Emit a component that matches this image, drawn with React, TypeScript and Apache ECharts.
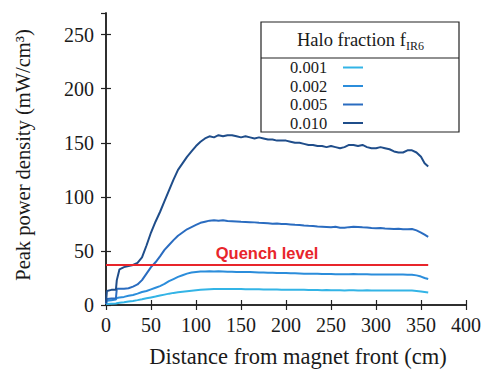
import React, { useEffect, useRef } from "react";
import * as echarts from "echarts";

// Distance from magnet front (cm)
const distances = [0, 1, 6, 11, 12, 15, 20, 25, 30, 35, 40, 45, 50, 55, 60, 65, 70, 75, 80, 85, 90, 95, 100, 105, 110, 115, 120, 125, 130, 135, 140, 145, 150, 155, 160, 165, 170, 175, 180, 185, 190, 195, 200, 205, 210, 215, 220, 225, 230, 235, 240, 245, 250, 255, 260, 265, 270, 275, 280, 285, 290, 295, 300, 305, 310, 315, 320, 325, 330, 335, 340, 345, 350, 354, 358];

// Peak power density (mW/cm^3) for each halo fraction
const pd001 = [0.5, 1, 1.2, 1.4, 1.6, 2, 2.5, 3.2, 3.8, 4.5, 5.3, 6.2, 7, 7.8, 8.7, 9.6, 10.5, 11.2, 11.8, 12.3, 12.8, 13.2, 13.6, 14, 14.3, 14.5, 14.7, 14.8, 14.7, 14.8, 14.7, 14.7, 14.7, 14.6, 14.6, 14.5, 14.5, 14.4, 14.4, 14.3, 14.3, 14.2, 14.2, 14.1, 14.1, 14, 14, 13.9, 13.9, 13.8, 13.7, 13.8, 13.7, 13.6, 13.6, 13.5, 13.6, 13.6, 13.5, 13.5, 13.6, 13.5, 13.5, 13.4, 13.5, 13.4, 13.4, 13.5, 13.4, 13.4, 13.3, 13, 12.5, 12, 11.5];
const pd002 = [1, 4, 4.5, 5, 6.5, 7, 7.5, 8.5, 9.3, 10.5, 12, 13, 14.5, 16, 17.5, 19.5, 22, 24, 26, 27.5, 29, 30, 30.5, 31, 31, 31.1, 31, 31.2, 31, 30.8, 30.7, 30.6, 30.5, 30.4, 30.4, 30.3, 30.1, 30, 29.9, 29.8, 29.7, 29.6, 29.5, 29.4, 29.3, 29.2, 29, 28.9, 28.8, 28.8, 28.7, 28.6, 28.6, 28.5, 28.4, 28.4, 28.5, 28.6, 28.5, 28.4, 28.4, 28.3, 28.3, 28.2, 28.3, 28.2, 28.1, 28.2, 28.1, 28, 28, 27.4, 26.3, 25, 24];
const pd005 = [1, 5.5, 6, 6, 15, 15, 15, 15.5, 17, 19, 23, 29, 35, 39.5, 45, 51, 55.5, 60, 64, 67, 70, 72, 74, 76, 77, 78, 78.3, 78, 78.4, 77.6, 77.5, 77.3, 77, 76.8, 76.6, 76.4, 76, 75.8, 75.6, 75.2, 75.4, 75, 74.8, 74.5, 74.2, 74, 73.5, 73.2, 73, 72.6, 72.4, 72.2, 72, 72.3, 71.5, 71.4, 72, 72.4, 72.1, 71.8, 71.6, 71.2, 71, 71.2, 70.8, 70.6, 70.2, 70.6, 70.1, 70, 70.2, 69, 67, 65, 63];
const pd010 = [2, 13, 14, 14, 23, 33, 35, 36, 37, 39, 44, 55, 67, 77, 86, 96, 106, 116, 125, 131, 137, 142, 147, 151, 154, 156, 155, 157, 156, 157, 157, 156, 155, 156, 155, 154, 155, 154, 153, 153, 152, 152, 152, 151, 150, 150, 149, 148, 148, 147, 147, 146, 147, 146, 145, 146, 148, 148, 147, 148, 146, 145, 145, 146, 145, 144, 142, 141, 141, 143, 143, 141, 137, 131, 128];

const seriesNames = ["0.001", "0.002", "0.005", "0.010"];
const seriesValues = [pd001, pd002, pd005, pd010];
const seriesColors = ["#33b4e6", "#2b8ddb", "#2a6cc0", "#1f4d8a"];

const quenchLevel = 37;
const quenchRange = [0, 358];

const xTicks = { min: 0, max: 400, interval: 50 };
const yTicks = { min: 0, max: 270, interval: 50 };

const SERIF = "Liberation Serif";
const SANS = "Liberation Sans";

export default function App() {
  const ref = useRef<HTMLDivElement>(null);
  useEffect(() => {
    if (!ref.current) return;
    const chart = echarts.init(ref.current, null, { renderer: "svg" });
    const axisLine = { show: true, lineStyle: { color: "#222", width: 1.5 } };
    const axisTick = { show: true, inside: true, length: 5, lineStyle: { color: "#222", width: 1.2 } };
    const labelStyle = { fontFamily: SERIF, fontSize: 20, color: "#1a1a1a" };

    const series: any[] = seriesNames.map((name, i) => ({
      name,
      type: "line",
      showSymbol: false,
      symbol: "none",
      data: distances.map((d, j) => [d, seriesValues[i][j]]),
      lineStyle: { color: seriesColors[i], width: 2 },
      itemStyle: { color: seriesColors[i] },
      z: 3,
    }));
    series.push({
      name: "Quench level",
      type: "line",
      data: [],
      markLine: {
        silent: true,
        symbol: ["none", "none"],
        lineStyle: { color: "#e8252b", width: 2, type: "solid" },
        label: {
          show: true,
          position: "middle",
          formatter: "Quench level",
          color: "#e8252b",
          fontFamily: SANS,
          fontWeight: "bold",
          fontSize: 16.5,
          distance: 3,
        },
        data: [[{ coord: [quenchRange[0], quenchLevel] }, { coord: [quenchRange[1], quenchLevel] }]],
      },
      z: 2,
    });

    const legendRows = [67.5, 86, 104.5, 123];
    const graphic: any[] = [
      {
        type: "rect",
        shape: { x: 261, y: 22, width: 198, height: 110 },
        style: { fill: "#fff", stroke: "#222", lineWidth: 1.2 },
        z: 10,
      },
      {
        type: "line",
        shape: { x1: 261, y1: 58, x2: 459, y2: 58 },
        style: { stroke: "#222", lineWidth: 1.2 },
        z: 11,
      },
      {
        type: "text",
        x: 297,
        y: 40,
        style: {
          text: "{a|Halo fraction f}{b|IR6}",
          align: "left",
          verticalAlign: "middle",
          rich: {
            a: { fontFamily: SERIF, fontSize: 18.5, fill: "#1a1a1a", lineHeight: 22 },
            b: { fontFamily: SERIF, fontSize: 12, fill: "#1a1a1a", lineHeight: 22, padding: [12, 0, 0, 0] },
          },
        },
        z: 11,
      },
      {
        type: "text",
        x: 23,
        y: 155,
        rotation: Math.PI / 2,
        style: {
          text: "Peak power density (mW/cm³)",
          fontFamily: SERIF,
          fontSize: 20.5,
          fill: "#1a1a1a",
          align: "center",
          verticalAlign: "middle",
        },
      },
      {
        type: "text",
        x: 298,
        y: 356,
        style: {
          text: "Distance from magnet front (cm)",
          fontFamily: SERIF,
          fontSize: 22.5,
          fill: "#1a1a1a",
          align: "center",
          verticalAlign: "middle",
        },
      },
    ];
    seriesNames.forEach((name, i) => {
      graphic.push({
        type: "text",
        x: 290,
        y: legendRows[i],
        style: {
          text: name,
          fontFamily: SERIF,
          fontSize: 16.5,
          fill: "#1a1a1a",
          align: "left",
          verticalAlign: "middle",
        },
        z: 11,
      });
      graphic.push({
        type: "line",
        shape: { x1: 343, y1: legendRows[i], x2: 363, y2: legendRows[i] },
        style: { stroke: seriesColors[i], lineWidth: 2 },
        z: 11,
      });
    });

    chart.setOption({
      animation: false,
      backgroundColor: "#fff",
      grid: { left: 106, right: 22, top: 13, bottom: 65, containLabel: false },
      xAxis: [
        {
          type: "value",
          ...xTicks,
          axisLine,
          axisTick,
          splitLine: { show: false },
          axisLabel: { ...labelStyle, margin: 10 },
        },
        {
          type: "value",
          position: "top",
          ...xTicks,
          axisLine,
          axisTick,
          splitLine: { show: false },
          axisLabel: { show: false },
        },
      ],
      yAxis: [
        {
          type: "value",
          ...yTicks,
          axisLine,
          axisTick,
          splitLine: { show: false },
          axisLabel: { ...labelStyle, margin: 12, showMaxLabel: false },
        },
        {
          type: "value",
          position: "right",
          ...yTicks,
          axisLine,
          axisTick,
          splitLine: { show: false },
          axisLabel: { show: false },
        },
      ],
      series,
      graphic,
    });
    return () => chart.dispose();
  }, []);
  return <div ref={ref} style={{ position: "absolute", left: 0, top: 0, width: 488, height: 370 }} />;
}
